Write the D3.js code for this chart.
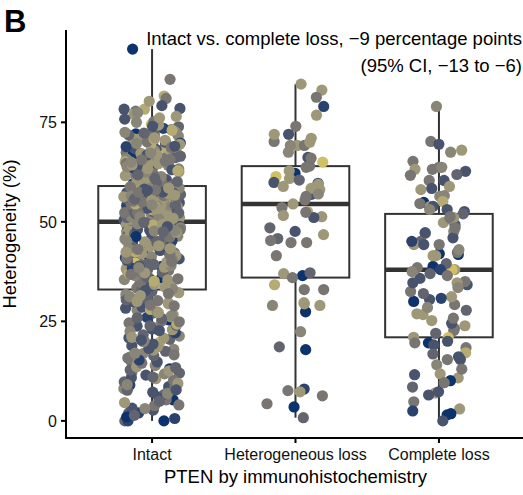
<!DOCTYPE html>
<html>
<head>
<meta charset="utf-8">
<script src="https://cdn.jsdelivr.net/npm/d3@7"></script>
<style>
  body { margin: 0; background: #fff; }
  text { font-family: "Liberation Sans", Arial, Helvetica, sans-serif; }
</style>
</head>
<body>
<svg id="chart" width="523" height="495"></svg>
<script>
// categories and ticks
const categories = ["Intact", "Heterogeneous loss", "Complete loss"];
const yTicks = [0, 25, 50, 75];
const panelLabel = "B";
const noteLines = ["Intact vs. complete loss, \u22129 percentage points", "(95% CI, \u221213 to \u22126)"];
const xTitle = "PTEN by immunohistochemistry";
const yTitle = "Heterogeneity (%)";

// heterogeneity (%) per tumour
const intactValues = [
  93.4, 85.8, 81.6, 81.0, 78.3, 78.5, 77.8, 78.3, 77.0, 74.5, 75.8,
  73.9, 72.8, 72.1, 71.6, 71.2, 70.7, 70.3, 69.8, 69.5, 69.1, 68.6, 68.2, 67.9, 67.4, 67.0, 66.6, 66.3, 65.8, 65.5, 65.1,
  64.7, 64.4, 64.0, 63.7, 63.3, 63.0, 62.6, 62.3, 61.9, 61.6, 61.2, 60.9, 60.6, 60.2, 59.9, 59.6, 59.3, 59.1,
  73.2, 70.0, 68.0, 66.0, 64.2, 62.0, 60.4, 71.9, 67.7, 63.5, 61.4,
  59.0,
  58.8, 58.6, 58.3, 58.1, 57.9, 57.6, 57.4, 57.1, 56.9, 56.7, 56.4, 56.2, 55.9, 55.7, 55.5, 55.2, 55.0, 54.8, 54.5, 54.3,
  54.1, 53.8, 53.6, 53.3, 53.1, 52.9, 52.6, 52.4, 52.1, 51.9, 51.7, 51.4, 51.2, 50.9, 50.7, 50.5, 50.2,
  58.5, 57.0, 55.4, 53.9, 52.2, 50.8, 56.0, 54.0, 51.5, 57.8, 53.4, 55.8, 50.4, 58.2, 56.5, 54.7, 52.8, 51.0, 57.3, 53.0, 55.1, 50.1,
  50.0,
  49.7, 49.3, 48.9, 48.5, 48.0, 47.6, 47.2, 46.8, 46.4, 46.0, 45.5, 45.1, 44.7, 44.3, 43.9, 43.4, 43.0, 42.6, 42.2, 41.8,
  41.3, 40.9, 40.5, 40.1, 39.7, 39.2, 38.8, 38.4, 38.0, 37.6, 37.1, 36.7, 36.3, 35.9, 35.5, 35.0, 34.6, 34.2, 33.8, 33.4,
  49.0, 47.9, 46.2, 44.5, 42.9, 41.0, 39.5, 37.8, 36.0, 34.4, 48.3, 45.8, 43.6, 40.7, 38.2, 35.3, 46.9, 42.0, 37.3,
  33.0,
  0.0, 0.0, 0.0, 2.0, 2.0, 5.3, 6.0, 4.0, 5.3,
  7.2, 8.1, 9.0, 9.8, 10.6, 11.5, 12.3, 13.1, 13.9, 14.8, 15.6, 16.4, 17.2, 18.0, 18.9, 19.7, 20.5, 21.3, 22.1, 22.9,
  23.8, 24.6, 25.4, 26.2, 27.0, 27.8, 28.6, 29.4, 30.2, 31.0, 31.8, 32.5,
  8.6, 12.0, 15.0, 17.8, 20.9, 23.4, 26.0, 28.0, 30.6, 32.2, 19.0, 24.0, 29.9, 14.3, 3.2, 1.0, 6.6, 10.2, 16.9,
  // second layer of the dense Intact cloud
  59.4, 60.1, 60.8, 61.5, 62.4, 63.1, 63.9, 64.6, 65.3, 66.1, 66.9, 67.6, 68.4, 69.3, 70.1, 70.9, 71.8, 72.6, 73.5, 74.3,
  75.2, 76.1, 77.4, 79.2, 80.3, 59.8, 60.5, 61.2, 62.1, 62.8, 63.6, 64.3, 65.0, 65.7, 66.5, 67.2, 68.9, 69.7, 70.5, 71.4,
  72.3, 73.0, 74.0, 75.0, 76.5, 59.2, 60.0, 61.0, 62.5, 64.9, 66.8, 68.7, 70.8, 72.5, 61.8, 63.4, 65.6, 67.3, 69.0, 71.1,
  50.3, 50.6, 51.1, 51.3, 51.6, 51.8, 52.0, 52.3, 52.5, 52.7, 53.2, 53.5, 53.7, 54.2, 54.4, 54.6, 54.9, 55.3, 55.6, 56.1,
  56.3, 56.6, 56.8, 57.2, 57.5, 57.7, 58.0, 58.4, 58.7, 58.9, 50.5, 51.0, 51.5, 52.0, 52.5, 53.0, 53.5, 54.0, 54.5, 55.0,
  55.5, 56.0, 56.5, 57.0, 57.5, 58.0, 58.5, 50.8, 52.2, 53.8, 55.2, 56.7, 58.2, 51.2, 53.3, 55.8, 57.4, 50.9, 54.3, 57.9,
  33.2, 33.6, 34.0, 34.8, 35.4, 36.1, 36.5, 37.0, 37.5, 38.3, 38.6, 39.0, 39.4, 39.9, 40.3, 40.8, 41.1, 41.5, 42.1, 42.5,
  42.8, 43.2, 43.8, 44.1, 44.6, 45.0, 45.3, 45.7, 46.1, 46.6, 47.0, 47.4, 47.8, 48.1, 48.6, 49.2, 49.5, 49.9, 34.3, 35.7,
  37.2, 38.9, 40.4, 41.7, 43.3, 44.8, 46.3, 47.7, 49.4, 36.8, 39.3, 42.4, 45.2, 48.8, 35.1, 40.0, 44.0, 47.5, 38.5, 43.1,
  0.6, 1.4, 2.7, 3.8, 4.6, 5.7, 6.9, 7.7, 8.4, 9.4, 10.9, 11.8, 12.8, 13.6, 14.5, 15.3, 16.1, 17.5, 18.6, 19.3,
  20.1, 20.8, 21.6, 22.5, 23.1, 24.3, 25.1, 25.7, 26.7, 27.4, 28.3, 29.1, 29.7, 30.4, 31.2, 32.0, 32.7, 4.9, 9.1, 12.6,
  15.8, 18.2, 21.0, 23.9, 26.4, 28.9, 31.5, 7.8, 13.4, 19.9, 24.9, 30.0, 11.0, 17.0, 22.7, 27.2, 16.6, 25.9, 3.1, 20.3
];
const hetValues = [
  84.6, 83.1, 81.3, 79.0, 76.8, 74.0, 72.0, 70.2, 69.2, 72.0, 69.2, 70.0, 71.0, 69.2, 65.0, 66.2, 66.0, 63.7, 62.2, 61.4,
  59.7, 60.9, 59.4, 59.4, 59.9, 58.9, 56.9, 58.1, 58.4, 56.4, 54.5, 53.6, 52.6, 51.6, 51.3, 51.1, 52.4, 45.8, 47.6, 46.8,
  44.8, 45.3, 44.8, 41.5, 36.5, 37.2, 37.0, 36.0, 33.0, 33.0, 34.2, 29.0, 29.0, 27.4, 29.4, 29.7, 22.4, 17.9, 18.6, 8.0,
  7.6, 7.3, 6.3, 3.5, 4.3, 0.8, 48.5, 55.5, 57.0, 60.5, 62.8, 64.0, 67.5
];
const completeValues = [
  79.0, 70.2, 69.5, 68.0, 67.5, 65.2, 63.2, 63.7, 63.2, 62.7, 63.7, 61.7, 61.9, 60.4, 60.4, 58.9, 58.1, 58.4, 56.6, 56.4,
  55.1, 54.9, 53.9, 54.6, 53.1, 53.9, 52.6, 53.1,
  52.0,
  38.0, 38.0, 38.5, 38.8, 41.8, 41.5, 42.0, 42.3, 41.5, 44.3, 45.1, 44.3, 44.3, 45.1, 47.1, 47.3, 47.6, 49.3, 49.8, 50.8,
  51.1, 51.1, 51.3, 39.5, 43.0, 46.0, 48.5,
  38.0,
  22.7, 23.2, 23.9, 25.2, 26.9, 26.7, 29.2, 30.0, 30.5, 31.2, 32.5, 34.2, 35.0, 34.7, 34.7,
  22.0, 24.5, 25.8, 27.8, 28.5, 30.8, 32.0, 33.5, 35.8, 36.5, 37.0, 37.5,
  21.0,
  20.9, 18.4, 19.6, 19.6, 19.1, 17.1, 16.1, 15.4, 15.4, 14.1, 10.8, 10.1, 11.6, 11.8, 9.6, 7.0, 6.5, 7.3, 4.8, 3.0,
  1.8, 1.5, 0.0, 2.5, 8.5, 13.0, 16.8, 20.0
];

// colour variable (0 = darkest, 9 = brightest), same order as the values
const intactColour = [
  0, 4, 7, 4, 2, 2, 4, 7, 6, 8, 2,
  3, 6, 0, 5, 2, 6, 4, 1, 6, 3, 7, 2, 5, 4, 0, 6, 3, 5, 2, 7,
  4, 1, 6, 3, 5, 2, 6, 4, 0, 6, 3, 5, 2, 8, 4, 1, 6, 3,
  5, 2, 6, 4, 5, 2, 6, 3, 6, 1, 5,
  4,
  6, 2, 5, 3, 7, 4, 1, 6, 3, 5, 2, 6, 4, 0, 6, 3, 5, 2, 7, 4,
  1, 6, 3, 5, 2, 6, 4, 0, 5, 3, 6, 2, 8, 4, 1, 6, 3,
  5, 2, 6, 4, 5, 2, 7, 3, 6, 4, 1, 5, 2, 6, 3, 5, 4, 6, 2, 8, 3, 5,
  5,
  3, 6, 2, 5, 4, 0, 6, 3, 5, 2, 7, 4, 1, 6, 3, 5, 2, 6, 4, 0,
  5, 3, 6, 2, 8, 4, 1, 6, 3, 5, 2, 6, 4, 0, 5, 3, 6, 2, 7, 4,
  5, 2, 6, 3, 5, 1, 6, 4, 5, 2, 6, 3, 5, 2, 6, 0, 4, 6, 3,
  3,
  0, 3, 1, 3, 1, 0, 0, 4, 4,
  2, 5, 1, 3, 6, 2, 4, 0, 5, 2, 6, 3, 1, 5, 2, 7, 3, 5, 1, 6,
  2, 4, 0, 6, 3, 5, 2, 6, 4, 1, 5, 3,
  2, 3, 4, 6, 2, 5, 1, 7, 3, 6, 0, 3, 2, 6, 2, 0, 3, 4, 5,
  5, 3, 6, 4, 7, 2, 5, 6, 4, 3, 6, 5, 2, 7, 4, 6, 3, 5, 1, 6,
  4, 6, 5, 2, 6, 3, 5, 6, 4, 7, 2, 6, 5, 4, 3, 6, 1, 5, 6, 4,
  3, 7, 2, 5, 6, 4, 6, 3, 5, 6, 2, 4, 7, 5, 3, 6, 4, 5, 2, 6,
  4, 6, 3, 5, 7, 2, 6, 4, 5, 6, 3, 1, 5, 6, 4, 7, 2, 5, 6, 3,
  6, 4, 5, 2, 6, 7, 3, 5, 4, 6, 1, 5, 6, 3, 4, 6, 2, 5, 7, 4,
  6, 3, 5, 6, 2, 4, 6, 5, 3, 7, 4, 6, 2, 5, 6, 3, 4, 6, 5, 2,
  5, 6, 2, 4, 6, 3, 5, 7, 4, 1, 6, 5, 3, 6, 2, 4, 5, 6, 3, 7,
  2, 5, 6, 4, 3, 6, 1, 5, 4, 6, 3, 6, 5, 2, 4, 7, 5, 3, 6, 4,
  6, 2, 5, 4, 6, 3, 0, 5, 6, 4, 3, 6, 5, 2, 7, 4, 6, 3, 5, 4,
  1, 3, 2, 4, 6, 2, 5, 3, 4, 6, 2, 5, 3, 6, 4, 1, 5, 3, 6, 2,
  4, 6, 3, 5, 2, 7, 4, 3, 6, 5, 2, 4, 6, 3, 5, 4, 2, 3, 5, 6,
  4, 2, 6, 3, 5, 4, 6, 2, 3, 5, 4, 6, 3, 5, 2, 6, 4, 3, 5, 2
];
const hetColour = [
  6, 6, 4, 1, 6, 4, 2, 4, 6, 6, 4, 6, 6, 5, 8, 2, 4, 4, 0, 8,
  2, 6, 2, 6, 2, 6, 2, 6, 6, 4, 6, 4, 7, 6, 6, 2, 4, 3, 2, 6,
  4, 4, 4, 4, 0, 3, 6, 4, 4, 4, 7, 5, 6, 0, 6, 6, 5, 0, 3, 1,
  4, 6, 4, 0, 4, 3, 3, 4, 5, 3, 6, 4, 5
];
const completeColour = [
  5, 4, 2, 6, 5, 4, 6, 4, 4, 2, 5, 4, 3, 4, 2, 6, 6, 2, 5, 5,
  7, 0, 6, 4, 2, 2, 2, 5,
  3,
  6, 8, 4, 0, 0, 6, 0, 4, 6, 4, 3, 6, 2, 1, 4, 2, 5, 2, 6, 5,
  4, 6, 4, 3, 5, 2, 4,
  1,
  4, 4, 6, 6, 6, 6, 4, 0, 2, 6, 4, 2, 4, 2, 6,
  3, 2, 4, 3, 5, 1, 3, 5, 2, 4, 3, 5,
  6,
  8, 4, 0, 4, 2, 7, 2, 2, 4, 5, 6, 0, 2, 6, 4, 6, 2, 2, 4, 6,
  0, 0, 2, 1, 3, 4, 3, 2
];

const groups = [
  { name: categories[0], values: intactValues, colour: intactColour },
  { name: categories[1], values: hetValues, colour: hetColour },
  { name: categories[2], values: completeValues, colour: completeColour }
];

const svg = d3.select("#chart");
const plotLeft = 66, plotRight = 525, plotTop = 30, plotBottom = 438;

const x = d3.scalePoint().domain(categories).range([plotLeft, plotRight]).padding(0.6);
const y = d3.scaleLinear().domain([-4.3, 98.2]).range([plotBottom, plotTop]);
const colour = d3.scaleSequential(d3.interpolateCividis).domain([-1.2, 10]);
const step = x.step();
const boxW = step * 0.75;

// boxplots (under the points)
groups.forEach((g) => {
  const s = g.values.slice().sort(d3.ascending);
  const q1 = d3.quantile(s, 0.25), med = d3.quantile(s, 0.5), q3 = d3.quantile(s, 0.75);
  const iqr = q3 - q1;
  const lo = d3.min(s.filter((v) => v >= q1 - 1.5 * iqr));
  const hi = d3.max(s.filter((v) => v <= q3 + 1.5 * iqr));
  const cx = x(g.name);
  const bg = svg.append("g").attr("stroke", "#333333").attr("fill", "none");
  bg.append("line").attr("x1", cx).attr("x2", cx).attr("y1", y(q3)).attr("y2", y(hi)).attr("stroke-width", 2);
  bg.append("line").attr("x1", cx).attr("x2", cx).attr("y1", y(q1)).attr("y2", y(lo)).attr("stroke-width", 2);
  bg.append("rect")
    .attr("x", cx - boxW / 2).attr("width", boxW)
    .attr("y", y(q3)).attr("height", y(q1) - y(q3))
    .attr("fill", "#fff").attr("stroke-width", 2);
  bg.append("line").attr("x1", cx - boxW / 2).attr("x2", cx + boxW / 2)
    .attr("y1", y(med)).attr("y2", y(med)).attr("stroke-width", 4.5);
});

// jittered points (fixed seed, like geom_jitter width 0.2)
const rand = d3.randomUniform.source(d3.randomLcg(0.137))(-0.2, 0.2);
groups.forEach((g) => {
  const pts = g.values.map((v, i) => ({ v: v, c: g.colour[i] === undefined ? 4 : g.colour[i], j: rand() }));
  svg.append("g").selectAll("circle")
    .data(pts)
    .enter().append("circle")
      .attr("cx", (d) => x(g.name) + d.j * step)
      .attr("cy", (d) => y(d.v))
      .attr("r", 5.6)
      .attr("fill", (d) => colour(d.c));
});

// axes
const ax = svg.append("g").attr("stroke", "#000").attr("stroke-width", 2);
ax.append("line").attr("x1", plotLeft).attr("x2", plotLeft).attr("y1", plotTop).attr("y2", plotBottom + 1);
ax.append("line").attr("x1", plotLeft - 1).attr("x2", plotRight).attr("y1", plotBottom).attr("y2", plotBottom);
yTicks.forEach((t) => {
  ax.append("line").attr("x1", plotLeft - 5).attr("x2", plotLeft).attr("y1", y(t)).attr("y2", y(t));
  svg.append("text").attr("x", plotLeft - 9).attr("y", y(t)).attr("dy", "0.36em")
    .attr("text-anchor", "end").attr("font-size", 16).attr("fill", "#111").text(t);
});
categories.forEach((c) => {
  ax.append("line").attr("x1", x(c)).attr("x2", x(c)).attr("y1", plotBottom).attr("y2", plotBottom + 5);
  svg.append("text").attr("x", x(c)).attr("y", 460)
    .attr("text-anchor", "middle").attr("font-size", 16).attr("fill", "#111").text(c);
});

svg.append("text").attr("x", (plotLeft + plotRight) / 2).attr("y", 483)
  .attr("text-anchor", "middle").attr("font-size", 18.5).text(xTitle);
svg.append("text").attr("transform", "translate(16," + ((plotTop + plotBottom) / 2) + ") rotate(-90)")
  .attr("text-anchor", "middle").attr("font-size", 18.5).text(yTitle);

// annotation and panel letter
svg.append("text").attr("x", 522).attr("y", 45).attr("text-anchor", "end").attr("font-size", 18.5).text(noteLines[0]);
svg.append("text").attr("x", 522).attr("y", 72).attr("text-anchor", "end").attr("font-size", 18.5).text(noteLines[1]);
svg.append("text").attr("x", 4).attr("y", 32).attr("font-size", 31).attr("font-weight", "bold").text(panelLabel);
</script>
</body>
</html>
